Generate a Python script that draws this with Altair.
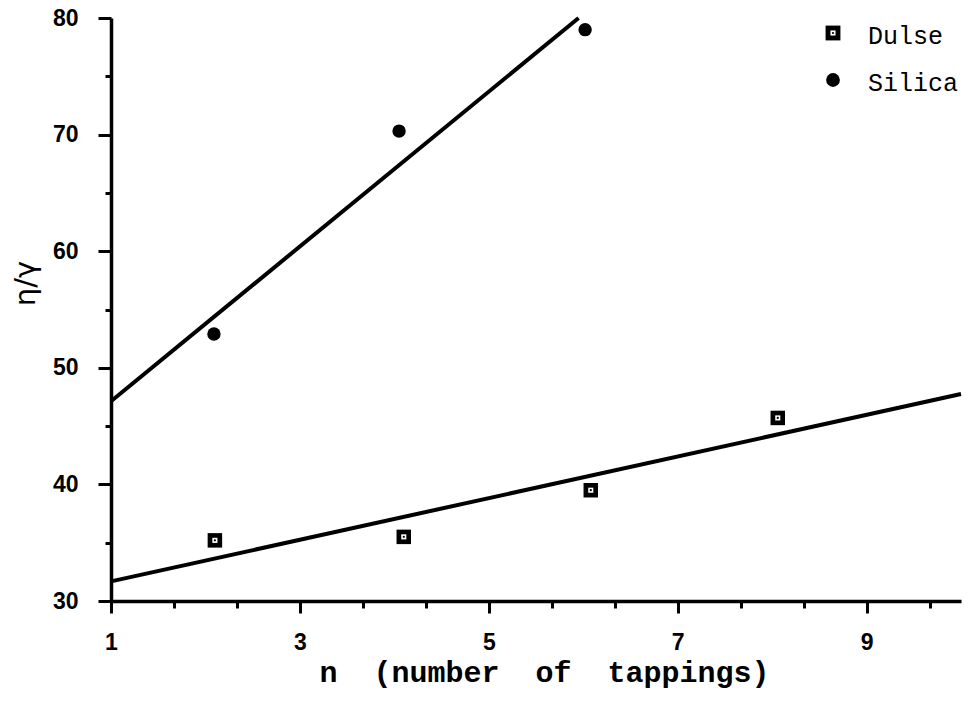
import altair as alt
import numpy as np
import pandas as pd

# Measured eta/gamma against number of tappings
series = ["Dulse", "Silica"]
dulse_n = [2.1, 4.1, 6.08, 8.06]
dulse_ratio = [35.2, 35.5, 39.5, 45.7]
silica_n = [2.09, 4.05, 6.02]
silica_ratio = [52.9, 70.3, 79.0]

# Axis ticks (x has minor ticks every 2/3 of a unit, y every 5)
x_ticks = [1, 1.6667, 2.3333, 3, 3.6667, 4.3333, 5, 5.6667, 6.3333,
           7, 7.6667, 8.3333, 9, 9.6667]
y_ticks = [30, 35, 40, 45, 50, 55, 60, 65, 70, 75, 80]
x_domain = [1, 10]
y_domain = [30, 80]

NBSP = "\u00a0"
x_title = f"n{NBSP*2}(number{NBSP*2}of{NBSP*2}tappings)"

dulse = pd.DataFrame({"n": dulse_n, "ratio": dulse_ratio})
silica = pd.DataFrame({"n": silica_n, "ratio": silica_ratio})

# Least-squares lines through each series
m_d, b_d = np.polyfit(dulse_n, dulse_ratio, 1)
dulse_fit = pd.DataFrame({"n": x_domain,
                          "ratio": [m_d * x + b_d for x in x_domain]})
m_s, b_s = np.polyfit(silica_n, silica_ratio, 1)
silica_end = (y_domain[1] - b_s) / m_s
silica_fit = pd.DataFrame({"n": [x_domain[0], silica_end],
                           "ratio": [m_s * x_domain[0] + b_s, y_domain[1]]})

x_major = "abs(datum.value - 2*round((datum.value - 1)/2) - 1) < 0.01"
y_major = "datum.value % 10 === 0"

x_axis = alt.Axis(
    values=x_ticks, title=x_title, grid=False,
    labelExpr=f"({x_major}) ? format(datum.value, 'd') : ''",
    labelOverlap=False, labelFlush=False,
    tickSize={"condition": {"test": x_major, "value": 12}, "value": 7},
    tickWidth=3, tickColor="black", domainWidth=3.5, domainColor="black",
    labelFont="Liberation Sans", labelFontSize=23, labelFontWeight="bold",
    labelColor="black", labelPadding=18,
    titleFont="Liberation Mono", titleFontSize=30, titleFontWeight="bold",
    titleColor="black", titleX=433, titleY=80, titleAlign="center",
    titleBaseline="alphabetic",
)
y_axis = alt.Axis(
    values=y_ticks, title="η/γ", grid=False,
    labelExpr=f"({y_major}) ? datum.label : ''",
    labelOverlap=False, labelFlush=False,
    tickSize={"condition": {"test": y_major, "value": 13}, "value": 6},
    tickWidth=3, tickColor="black", domainWidth=3.5, domainColor="black",
    labelFont="Liberation Sans", labelFontSize=23, labelFontWeight="bold",
    labelColor="black", labelPadding=20,
    titleFont="DejaVu Sans", titleFontSize=29, titleFontWeight="normal",
    titleColor="black", titleX=-86, titleY=265, titleAlign="center",
    titleBaseline="middle", titleAngle=270,
)

X = alt.X("n:Q", scale=alt.Scale(domain=x_domain, nice=False, zero=False),
          axis=x_axis)
Y = alt.Y("ratio:Q", scale=alt.Scale(domain=y_domain, nice=False, zero=False),
          axis=y_axis)

lines = alt.layer(
    alt.Chart(dulse_fit).mark_line(color="black", strokeWidth=4).encode(x=X, y=Y),
    alt.Chart(silica_fit).mark_line(color="black", strokeWidth=4).encode(x=X, y=Y),
)


def boxed_square(chart_base, outer=210):
    """Heavy square marker with a small white inset and a centre dot."""
    return [
        chart_base.mark_point(shape="square", filled=True, size=outer,
                              color="black", opacity=1),
        chart_base.mark_point(shape="square", filled=True, size=26,
                              color="white", opacity=1),
        chart_base.mark_point(shape="circle", filled=True, size=5,
                              color="black", opacity=1),
    ]


dulse_base = alt.Chart(dulse).encode(x=X, y=Y)
dulse_marks = boxed_square(dulse_base)
silica_marks = alt.Chart(silica).mark_point(
    shape="circle", filled=True, size=180, color="black", opacity=1
).encode(x=X, y=Y)

# Legend in the top-right corner of the plot
legend_rows = []
leg_y = [15, 62]
for name, py in zip(series, leg_y):
    row = alt.Chart(pd.DataFrame({"name": [name]})).encode(
        x=alt.value(722), y=alt.value(py))
    if name == "Dulse":
        legend_rows += boxed_square(row, outer=220)
    else:
        legend_rows.append(row.mark_point(shape="circle", filled=True, size=190,
                                          color="black", opacity=1))
    legend_rows.append(
        alt.Chart(pd.DataFrame({"name": [name]})).mark_text(
            align="left", baseline="middle", font="Liberation Mono",
            fontSize=25, color="black",
        ).encode(x=alt.value(757), y=alt.value(py + 3), text="name:N")
    )

chart = alt.layer(
    lines, *dulse_marks, silica_marks, *legend_rows
).properties(
    width=850, height=583,
    padding={"left": 111, "top": 18, "right": 7, "bottom": 103},
    autosize=alt.AutoSizeParams(type="none"),
    background="white",
).configure_view(stroke=None)

chart.save("out.html", embed_options={"renderer": "svg", "actions": False})
